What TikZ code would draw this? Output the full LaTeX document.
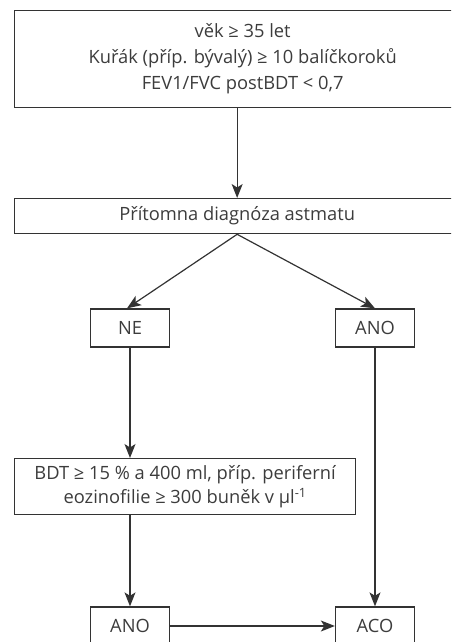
\documentclass[tikz,border=0pt]{standalone}
\usepackage{fontspec}
\setmainfont{Open Sans}
\usetikzlibrary{arrows.meta}
\definecolor{ink}{HTML}{333333}
\definecolor{txt}{HTML}{3C3C3C}
\tikzset{
  box/.style={draw=ink, line width=1.3pt, text=txt, font=\fontsize{18.3}{26}\selectfont, inner sep=0pt, align=center},
  small/.style={box, minimum width=79, minimum height=38},
  arr/.style={draw=ink, line width=1.2pt, -{Stealth[length=14pt,width=11pt,inset=3.5pt]}},
}
\begin{document}
\begin{tikzpicture}[x=1pt,y=-1pt]
\useasboundingbox (0,0) rectangle (451,642);
\clip (0,0) rectangle (451,642);
\node[box, minimum width=456, minimum height=97, anchor=north west] (top) at (14,10)
  {věk ≥ 35 let\\Kuřák (příp. bývalý) ≥ 10 balíčkoroků\\FEV1/FVC postBDT < 0,7};
\node[box, minimum width=445, minimum height=35, anchor=north west] (diag) at (14,198)
  {Přítomna diagnóza astmatu};
\node[small] (ne) at (130,328) {NE};
\node[small] (ano) at (375,328) {ANO};
\node[box, minimum width=341, minimum height=56, anchor=north west, font=\fontsize{18.3}{24}\selectfont] (bdt) at (14,458)
  {BDT ≥ 15 \% a 400 ml, příp. periferní\\eozinofilie ≥ 300 buněk v µl\textsuperscript{-1}};
\node[small] (ano2) at (130,626) {ANO};
\node[small] (aco) at (375,626) {ACO};
\draw[arr] (top.south -| diag.north) -- (diag.north);
\draw[arr] (diag.south) -- ([xshift=-3]ne.north);
\draw[arr] (diag.south) -- (ano.north);
\draw[arr] (ne.south) -- (ne.south |- bdt.north);
\draw[arr] (bdt.south -| ano2.north) -- (ano2.north);
\draw[arr] (ano.south) -- (aco.north);
\draw[arr] (ano2.east) -- (aco.west);
\end{tikzpicture}
\end{document}
